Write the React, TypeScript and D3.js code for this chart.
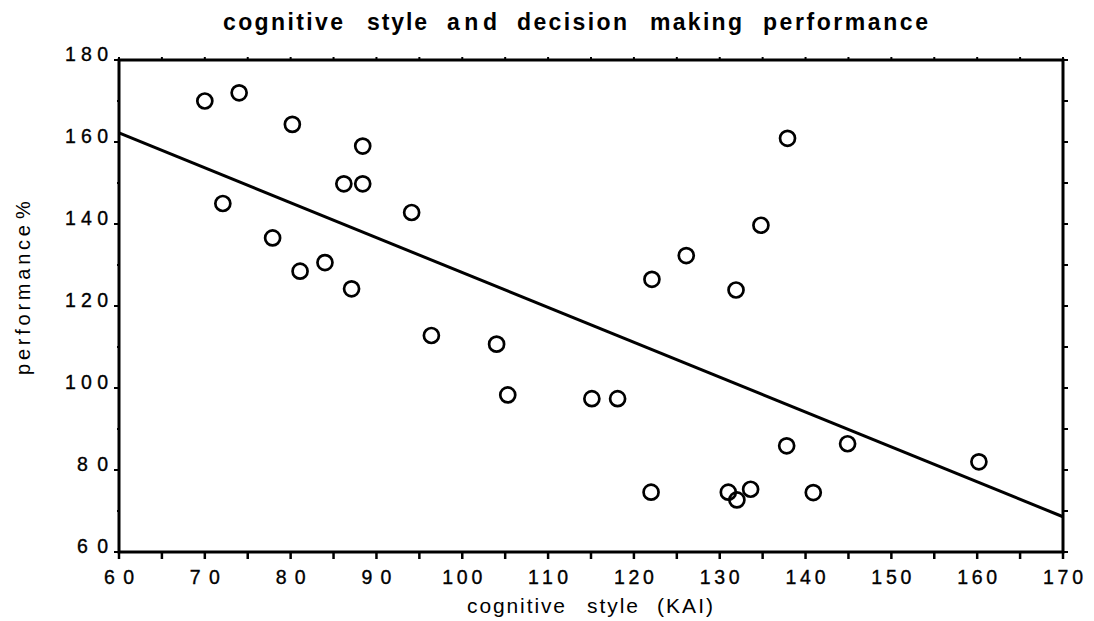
import React from "react";
import * as d3 from "d3";

const kai = [70.0, 74.0, 72.1, 80.2, 88.4, 86.2, 88.4, 77.9, 81.1, 84.0, 87.1, 94.1, 96.4, 104.0, 105.3, 115.1, 118.1, 122.0, 122.1, 126.1, 131.9, 134.8, 137.9, 137.8, 144.9, 160.2, 140.9, 131.0, 132.0, 133.6];
const performance = [170.0, 172.0, 145.0, 164.3, 159.0, 149.8, 149.8, 136.6, 128.5, 130.6, 124.2, 142.8, 112.8, 110.7, 98.3, 97.4, 97.4, 74.6, 126.5, 132.3, 123.9, 139.7, 160.9, 85.9, 86.4, 82.0, 74.5, 74.6, 72.7, 75.3];
const trendX = [60, 170];
const trendY = [162.2, 68.6];
const xTickLabels = [60, 70, 80, 90, 100, 110, 120, 130, 140, 150, 160, 170];
const yTickLabels = [60, 80, 100, 120, 140, 160, 180];
const titleWords = ["cognitive", "style", "and", "decision", "making", "performance"];
const xTitleWords = ["cognitive", "style", "(KAI)"];
const yTitleWords = ["performance", "%"];

// layout (pixel) settings for word placement: [start, length]
const titleLayout = [[223, 120], [367, 60], [447, 50], [517, 110], [650, 92], [763, 165]];
const xTitleLayout = [[467, 98], [587, 51], [657, 56]];
const yTitleLayout = [[375, 150], [219, 13]];

const W = 1094, H = 621;
const L = 119, R = 1063, T = 60, B = 552;

export default function App() {
  const x = d3.scaleLinear().domain([60, 170]).range([L, R]);
  const y = d3.scaleLinear().domain([60, 180]).range([B, T]);
  const xMinor = d3.range(60, 171, 5);
  const yMinor = d3.range(60, 181, 10);
  const line = d3.line<number>().x((_, i) => x(trendX[i])).y((d) => y(d));
  const font = "'Liberation Sans', Arial, Helvetica, sans-serif";
  return (
    <svg width={W} height={H} style={{ position: "absolute", left: 0, top: 0, background: "#fff" }} fontFamily={font}>
      <rect x={0} y={0} width={W} height={H} fill="#fff" />
      {titleWords.map((w, i) => (
        <text key={"tw" + i} x={titleLayout[i][0]} y={30} fontSize={23} fontWeight="bold"
          textLength={titleLayout[i][1]} lengthAdjust="spacing">{w}</text>
      ))}
      {/* frame */}
      <rect x={L} y={T} width={R - L} height={B - T} fill="none" stroke="#000" strokeWidth={3} />
      {xMinor.map((v) => (
        <line key={"b" + v} x1={x(v)} x2={x(v)} y1={B} y2={B + 7} stroke="#000" strokeWidth={2.5} />
      ))}
      {xMinor.map((v) => (
        <line key={"t" + v} x1={x(v)} x2={x(v)} y1={T} y2={T - 3} stroke="#000" strokeWidth={2} />
      ))}
      {yMinor.map((v) => (
        <line key={"r" + v} x1={R} x2={R + 5} y1={y(v)} y2={y(v)} stroke="#000" strokeWidth={2} />
      ))}
      {yMinor.map((v) => (
        <line key={"l" + v} x1={L} x2={L - (v % 20 === 0 ? 5 : 2)} y1={y(v)} y2={y(v)} stroke="#000" strokeWidth={2} />
      ))}
      {xTickLabels.map((v) => (
        <text key={"xl" + v} x={x(v)} y={584} fontSize={19.5} textAnchor="middle" stroke="#000" strokeWidth={0.35}
          textLength={String(v).length === 3 ? 40 : 30} lengthAdjust="spacing">{v}</text>
      ))}
      {yTickLabels.map((v) => (
        <text key={"yl" + v} x={108} y={y(v) + 1} fontSize={19.5} textAnchor="end" stroke="#000" strokeWidth={0.35}
          textLength={String(v).length === 3 ? 43 : 31} lengthAdjust="spacing">{v}</text>
      ))}
      {xTitleWords.map((w, i) => (
        <text key={"xw" + i} x={xTitleLayout[i][0]} y={613} fontSize={21}
          textLength={xTitleLayout[i][1]} lengthAdjust="spacing">{w}</text>
      ))}
      {yTitleWords.map((w, i) => (
        <text key={"yw" + i} transform={`translate(30,${yTitleLayout[i][0]}) rotate(-90)`} fontSize={20}
          textLength={yTitleLayout[i][1]} lengthAdjust="spacing">{w}</text>
      ))}
      <path d={line(trendY) || ""} fill="none" stroke="#000" strokeWidth={3} />
      {kai.map((k, i) => (
        <circle key={"c" + i} cx={x(k)} cy={y(performance[i])} r={7.5} fill="none" stroke="#000" strokeWidth={2.7} />
      ))}
    </svg>
  );
}
